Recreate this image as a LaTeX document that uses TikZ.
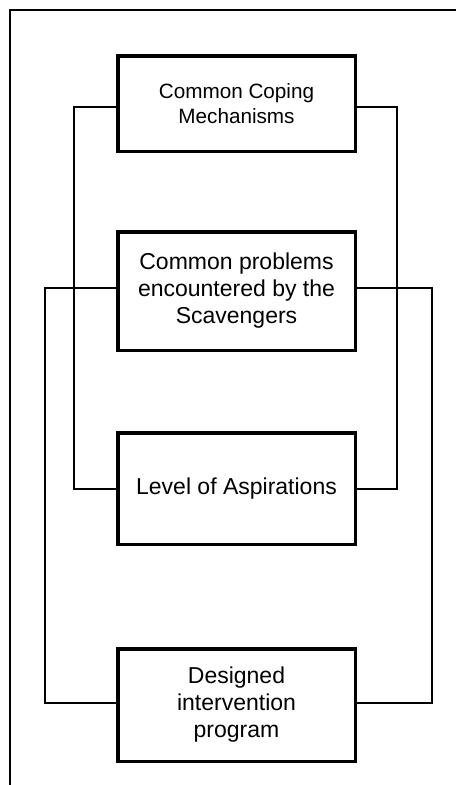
\documentclass[tikz,border=0pt]{standalone}
\usepackage{fontspec}
\setmainfont{Liberation Sans}
\begin{document}
\begin{tikzpicture}[x=1pt,y=-1pt,
  box/.style={draw, line width=3.5pt, minimum width=237.5pt, align=center, inner sep=0pt, font=\fontsize{23}{27}\selectfont},
  link/.style={line width=2pt},
  frame/.style={line width=2pt}]
\useasboundingbox (0,0) rectangle (456,785);
\node[box, minimum height=95.5pt, font=\fontsize{20.7}{25}\selectfont] (b1) at (236.5,103.5) {Common Coping\\Mechanisms};
\node[box, minimum height=118.5pt] (b2) at (236.5,291) {Common problems\\encountered by the\\Scavengers};
\node[box, minimum height=111.5pt] (b3) at (236.5,488.5) {Level of Aspirations};
\node[box, minimum height=112.5pt] (b4) at (236.5,705) {Designed\\intervention\\program};
\coordinate (fl) at (10,785);
\coordinate (fc) at (10,9.5);
\coordinate (fr) at (456,9.5);
\draw[frame] (fl) -- (fc) -- (fr);
\draw[link] ([yshift=-3.5pt]b1.west) -| (74,300) |- (b3.west);
\draw[link] ([yshift=-3.5pt]b1.east) -| (397,300) |- (b3.east);
\draw[link] ([yshift=3pt]b2.west) -| (45,500) |- ([yshift=2pt]b4.west);
\draw[link] ([yshift=3pt]b2.east) -| (432,500) |- ([yshift=2pt]b4.east);
\end{tikzpicture}
\end{document}
